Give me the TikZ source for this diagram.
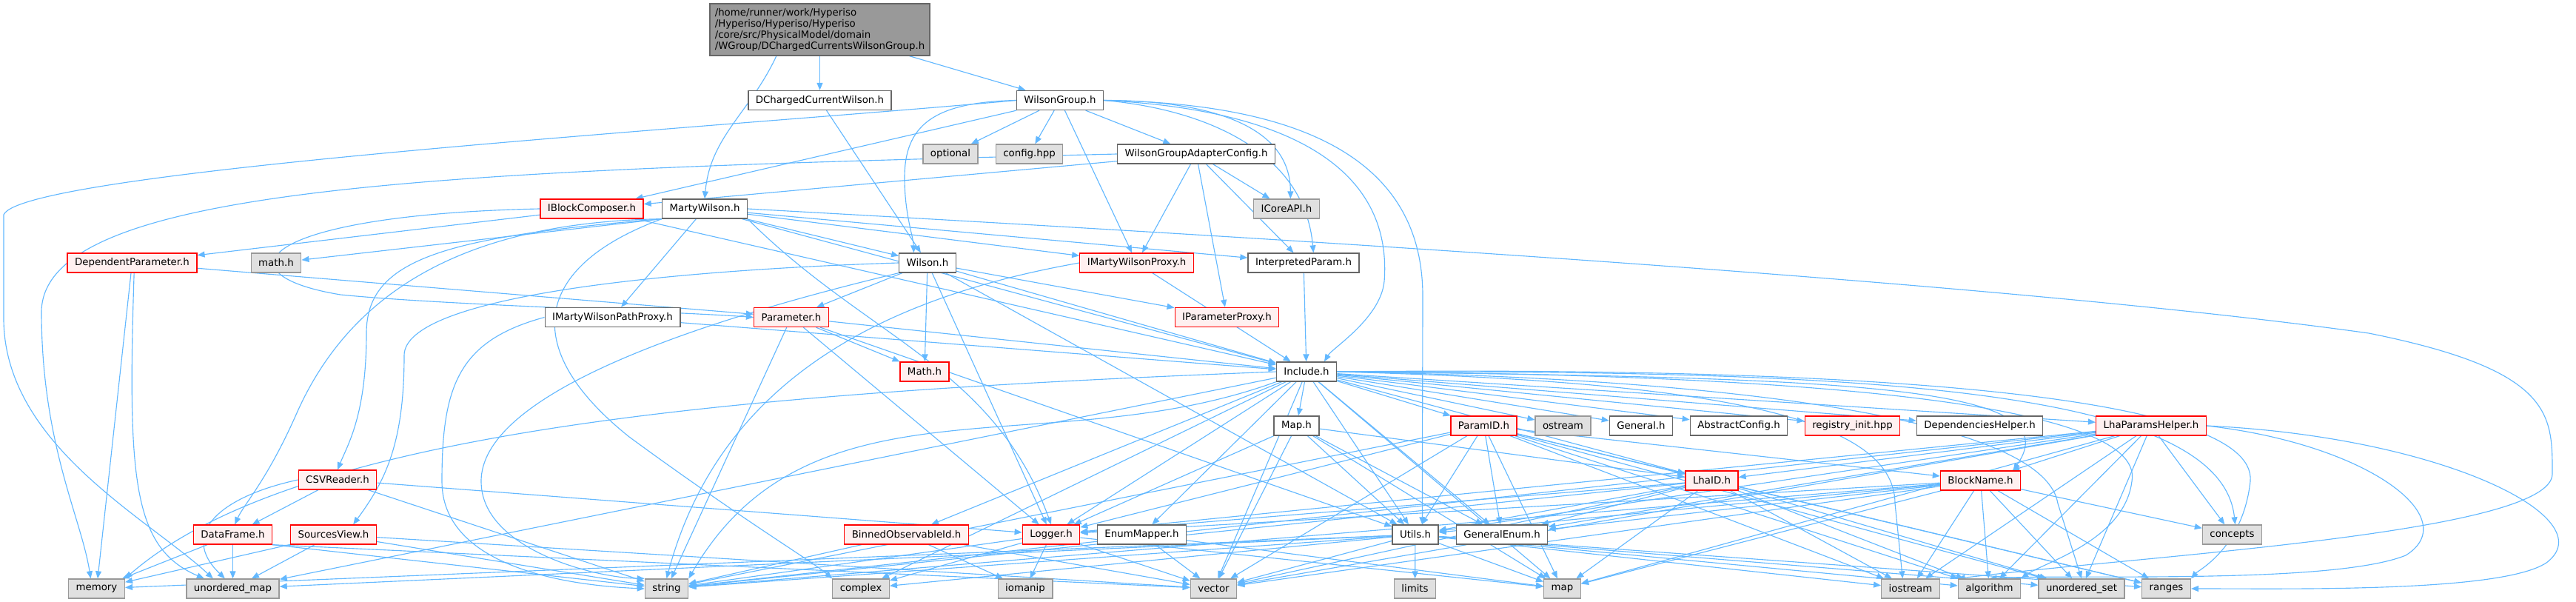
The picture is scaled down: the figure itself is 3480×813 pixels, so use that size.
\documentclass[tikz,border=0pt]{standalone}
\usepackage{fontspec}
\setmainfont{DejaVu Sans}
\usetikzlibrary{arrows.meta}

\definecolor{edgeblue}{HTML}{63B8FF}
\definecolor{framegrey}{HTML}{666666}
\definecolor{sysfill}{HTML}{E0E0E0}
\definecolor{sysdraw}{HTML}{999999}
\definecolor{truncfill}{HTML}{FFF0F0}

\pgfdeclarelayer{edges}
\pgfsetlayers{edges,main}

\begin{document}
\begin{tikzpicture}[x=0.75pt,y=-0.75pt,
  hdr/.style={rectangle, draw=framegrey, fill=white, line width=1pt, minimum height=19.5pt,
    inner xsep=7.5pt, inner ysep=0pt, font=\fontsize{10}{12}\selectfont},
  trunc/.style={hdr, draw=red, fill=truncfill},
  sys/.style={hdr, draw=sysdraw, fill=sysfill},
  dep/.style={draw=edgeblue, line width=0.85pt, -{Triangle[length=7.5pt,width=6pt]}}]

\useasboundingbox (0,0) rectangle (3480,813);

% top of the graph
\node[hdr, fill=sysdraw, align=left, inner xsep=4pt, minimum width=222.75pt, minimum height=52.5pt,
  font=\fontsize{10}{11.25}\selectfont] (root) at (1107.5,40)
  {/home/runner/work/Hyperiso\\/Hyperiso/Hyperiso/Hyperiso\\/core/src/PhysicalModel/domain\\/WGroup/DChargedCurrentsWilsonGroup.h};

\node[hdr] (dccw) at (1107.5,135.5) {DChargedCurrentWilson.h};
\node[hdr] (wg) at (1432,135.5) {WilsonGroup.h};

\node[sys] (opt) at (1284,208) {optional};
\node[sys] (cfg) at (1390.5,208) {config.hpp};
\node[hdr] (wgac) at (1616,208) {WilsonGroupAdapterConfig.h};

\node[trunc] (ibc) at (799.5,282) {IBlockComposer.h};
\node[hdr] (marty) at (952,282) {MartyWilson.h};
\node[sys] (icore) at (1738,282) {ICoreAPI.h};

\node[trunc] (deppar) at (178.5,355) {DependentParameter.h};
\node[sys] (mathh) at (373,355) {math.h};
\node[hdr] (wil) at (1253,355) {Wilson.h};
\node[trunc] (imwp) at (1535.5,355) {IMartyWilsonProxy.h};
\node[hdr] (interp) at (1761,355) {InterpretedParam.h};

\node[hdr] (imwpp) at (827.5,428.5) {IMartyWilsonPathProxy.h};
\node[trunc] (par) at (1069,428.5) {Parameter.h};
\node[trunc] (ipp) at (1657.5,428.5) {IParameterProxy.h};

\node[trunc] (mathM) at (1249,502) {Math.h};
\node[hdr] (inc) at (1765,502) {Include.h};

\node[hdr] (maph) at (1751.5,575) {Map.h};
\node[trunc] (pid) at (2004.5,575) {ParamID.h};
\node[sys] (ostr) at (2111.5,575) {ostream};
\node[hdr] (gen) at (2217,575) {General.h};
\node[hdr] (absc) at (2349,575) {AbstractConfig.h};
\node[trunc] (reg) at (2502.5,575) {registry\_init.hpp};
\node[hdr] (deph) at (2674.5,575) {DependenciesHelper.h};
\node[trunc] (lhaph) at (2906,575) {LhaParamsHelper.h};

\node[trunc] (csv) at (456,648) {CSVReader.h};
\node[trunc] (lhaid) at (2312.5,649) {LhaID.h};
\node[trunc] (blk) at (2675.5,649) {BlockName.h};

\node[trunc] (dfr) at (314.5,722) {DataFrame.h};
\node[trunc] (srcv) at (450.5,722) {SourcesView.h};
\node[trunc] (binn) at (1224.5,722) {BinnedObservableId.h};
\node[trunc] (logg) at (1420,722) {Logger.h};
\node[hdr] (enumm) at (1542.5,722) {EnumMapper.h};
\node[hdr] (utils) at (1912,722) {Utils.h};
\node[hdr] (genum) at (2029,722) {GeneralEnum.h};
\node[sys] (conc) at (3015.5,722) {concepts};

% system headers
\node[sys] (mem) at (130.5,795) {memory};
\node[sys] (umap) at (314.5,795) {unordered\_map};
\node[sys] (str) at (900.5,795) {string};
\node[sys] (cplx) at (1163,795) {complex};
\node[sys] (ioman) at (1385,795) {iomanip};
\node[sys] (vec) at (1639.5,795) {vector};
\node[sys] (lim) at (1911.5,795) {limits};
\node[sys] (mapstd) at (2110.5,795) {map};
\node[sys] (iostr) at (2581,795) {iostream};
\node[sys] (algo) at (2687.5,795) {algorithm};
\node[sys] (uset) at (2812,795) {unordered\_set};
\node[sys] (rng) at (2926.5,795) {ranges};

\begin{pgfonlayer}{edges}
% straight includes
\foreach \a/\b in {root/dccw, root/wg, dccw/wil,
    wg/ibc, wg/opt, wg/cfg, wg/wgac, wg/imwp,
    wgac/ibc, wgac/imwp, wgac/icore, wgac/interp, wgac/ipp,
    ibc/deppar, ibc/inc,
    marty/wil, marty/imwp, marty/interp, marty/inc, marty/imwpp, marty.south west/mathh,
    deppar/par, deppar/mem,
    wil/par, wil/mathM, wil/ipp, wil/inc, wil/logg, wil/utils,
    imwp/inc, interp/inc, imwpp/inc,
    par/mathM, par/logg, par/str, par/inc, par/utils,
    csv/dfr, csv/str, csv/logg,
    dfr/mem, dfr/umap, dfr.south east/str, dfr.south east/vec,
    srcv/mem, srcv/umap, srcv/str, srcv/vec,
    inc/maph, inc/pid, inc/ostr, inc/gen, inc/absc, inc/reg, inc/deph, inc/lhaph,
    inc/lhaid, inc/utils, inc/genum, inc/binn, inc/logg, inc/enumm, inc/vec,
    inc/cplx, inc/mapstd, inc/umap,
    maph/vec, maph/mapstd, maph/genum, maph/lhaid, maph/logg, maph/utils,
    pid/utils, pid/genum, pid/lhaid, pid/logg, pid/vec, pid/str, pid/mapstd,
    pid/iostr, pid/algo, pid/blk, pid/uset, pid/rng,
    lhaid/utils, lhaid/genum, lhaid/mapstd, lhaid/vec, lhaid/str, lhaid/logg,
    lhaid/iostr, lhaid/algo, lhaid/uset, lhaid/rng,
    blk/conc, blk/iostr, blk/algo, blk/uset, blk/rng, blk/mapstd, blk/vec,
    blk/str, blk/utils, blk/genum, blk/logg,
    lhaph/blk, lhaph/conc, lhaph/algo, lhaph/uset, lhaph/iostr, lhaph/lhaid,
    lhaph/utils, lhaph/mapstd, lhaph/vec, lhaph/str, lhaph/genum, lhaph/logg,
    binn/str, binn/ioman, binn/vec,
    logg/str, logg/vec, logg/cplx, logg/ioman, logg/mapstd,
    enumm/vec, enumm/mapstd,
    utils/lim, utils/mapstd, utils/vec, utils/str, utils/cplx, utils/iostr,
    utils/algo, utils/uset, utils/rng, utils/mem, utils/umap}
  \draw[dep] (\a) -- (\b);

% routed includes
\draw[dep] ([xshift=-44pt]root.south) to[out=-115,in=85] (marty.north);
\draw[dep] (wg.west) .. controls (1260,138) and (1222,170) .. (1222,240)
  .. controls (1222,290) and (1234,320) .. ([xshift=-14pt]wil.north);
\draw[dep] (wg.east) to[out=0,in=90] ([xshift=4pt]icore.north);
\draw[dep] (wg.east) to[out=-5,in=95] ([xshift=10pt]interp.north);
\draw[dep] (wg.east) .. controls (1780,150) and (1880,250) .. (1870,380)
  .. controls (1865,430) and (1800,470) .. ([xshift=18pt]inc.north);
\draw[dep] (wg.east) .. controls (1800,140) and (1922,240) .. (1922,400) -- ([xshift=7pt]utils.north);
\draw[dep] (wg.west) .. controls (1000,170) and (30,230) .. (5,290) -- (5,430)
  .. controls (5,600) and (200,700) .. ([xshift=-20pt]umap.north);
\draw[dep] (wgac.west) .. controls (600,230) and (60,250) .. (56,420)
  .. controls (56,600) and (110,700) .. ([xshift=-6pt]mem.north);
\draw[dep] ([xshift=2pt]deppar.south) .. controls (172,650) and (180,740) .. ([xshift=-29pt]umap.north);
\draw[dep] (ibc.west) .. controls (350,290) and (290,370) .. (460,398)
  .. controls (600,412) and (900,420) .. (par.west);
\draw[dep] (marty.south west) .. controls (600,320) and (495,350) .. (495,450)
  .. controls (495,560) and (470,600) .. (csv.north);
\draw[dep] (marty.south west) .. controls (620,300) and (470,400) .. (400,560)
  .. controls (360,650) and (330,680) .. ([xshift=2pt]dfr.north);
\draw[dep] (marty.south west) .. controls (720,360) and (700,470) .. (850,590)
  .. controls (1000,700) and (1100,760) .. (cplx.north west);
\draw[dep] (marty.south east) to[out=-45,in=110] (logg.north);
\draw[dep] (marty.east) .. controls (1700,320) and (2700,380) .. (3200,450)
  .. controls (3450,500) and (3448,560) .. (3448,640)
  .. controls (3448,720) and (2900,750) .. (algo.north west);
\draw[dep] (wil.west) .. controls (900,365) and (546,400) .. (546,480)
  .. controls (546,600) and (520,650) .. ([xshift=20pt]srcv.north);
\draw[dep] (wil.south west) .. controls (1000,420) and (650,520) .. (650,650)
  .. controls (650,740) and (800,780) .. (str.north west);
\draw[dep] (imwpp.west) .. controls (620,460) and (597,520) .. (597,650)
  .. controls (597,760) and (750,790) .. (str.west);
\draw[dep] (imwp.west) to[out=190,in=75] (str.north);
\draw[dep] (csv.west) .. controls (300,670) and (240,720) .. ([xshift=-8pt]umap.north);
\draw[dep] (inc.west) .. controls (1000,530) and (400,580) .. (mem.north east);
\draw[dep] (inc.south west) to[out=200,in=60] (str.north east);
\draw[dep] (inc.east) .. controls (2500,510) and (2800,520) .. ([xshift=-8pt]blk.north east);
\draw[dep] (inc.east) .. controls (2500,500) and (3000,520) .. ([xshift=3pt]conc.north);
\draw[dep] (inc.east) .. controls (2500,495) and (3050,530) .. (3040,650)
  .. controls (3030,740) and (2970,770) .. (rng.north east);
\draw[dep] (inc.east) .. controls (2400,505) and (2900,540) .. (2880,650)
  .. controls (2870,730) and (2760,760) .. (algo.north east);
\draw[dep] (inc.east) .. controls (2300,510) and (2760,560) .. (2780,680) -- (uset.north);
\draw[dep] (inc.east) .. controls (2300,515) and (2560,560) .. (2560,680) -- ([xshift=-8pt]iostr.north);
\draw[dep] (lhaph.east) .. controls (3300,590) and (3520,700) .. (3440,760)
  .. controls (3380,800) and (3100,795) .. (rng.east);
\draw[dep] (lhaph.east) .. controls (3200,600) and (3330,700) .. (3250,750)
  .. controls (3150,790) and (2800,775) .. (algo.north);
\end{pgfonlayer}

\end{tikzpicture}
\end{document}
